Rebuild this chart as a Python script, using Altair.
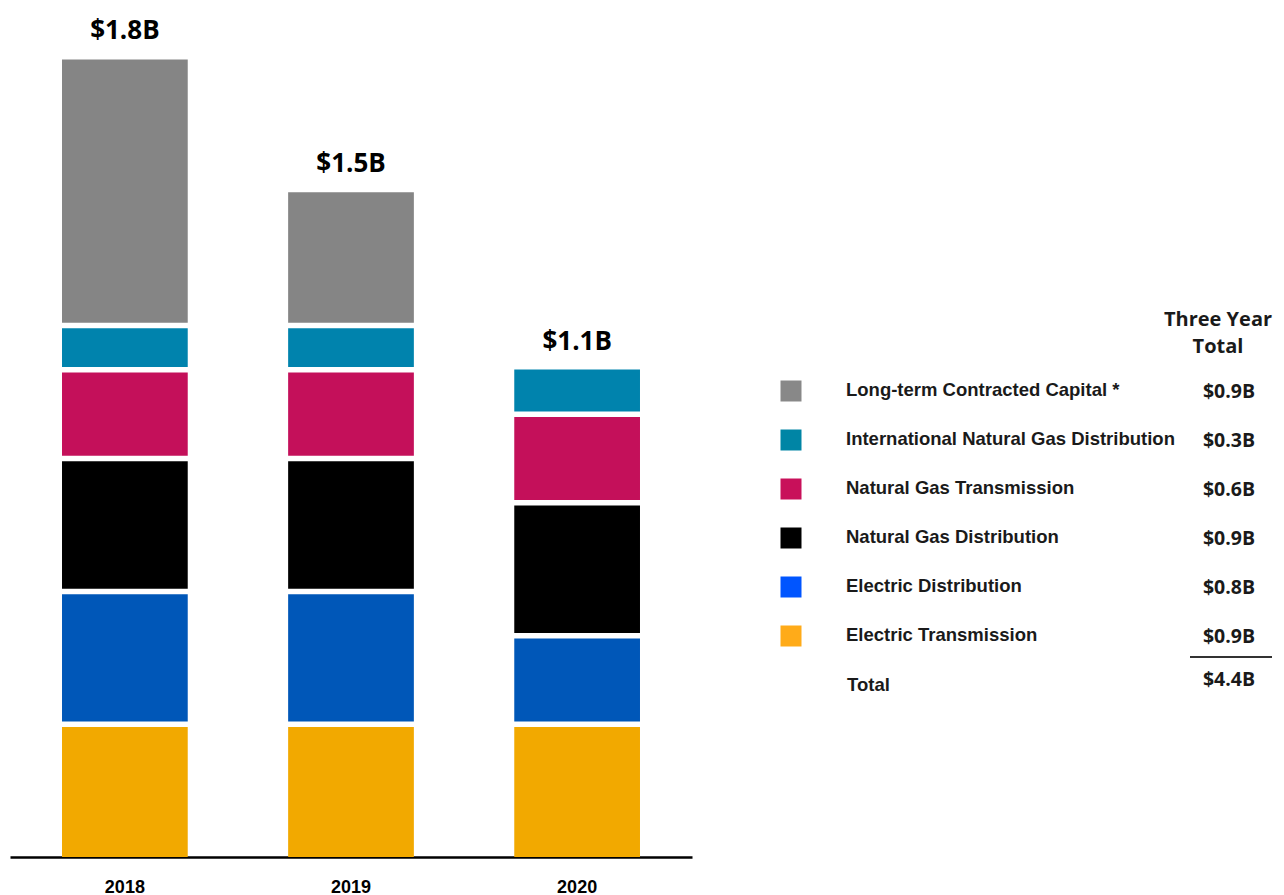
import altair as alt
import pandas as pd

years = ["2018", "2019", "2020"]
categories = [
    "Electric Transmission",
    "Electric Distribution",
    "Natural Gas Distribution",
    "Natural Gas Transmission",
    "International Natural Gas Distribution",
    "Long-term Contracted Capital *",
]
# values in $B, per category, per year (2018, 2019, 2020)
values = {
    "Electric Transmission": [0.3, 0.3, 0.3],
    "Electric Distribution": [0.3, 0.3, 0.2],
    "Natural Gas Distribution": [0.3, 0.3, 0.3],
    "Natural Gas Transmission": [0.2, 0.2, 0.2],
    "International Natural Gas Distribution": [0.1, 0.1, 0.1],
    "Long-term Contracted Capital *": [0.6, 0.3, 0.0],
}
bar_colors = ["#f2a900", "#0057b8", "#000000", "#c4105a", "#0083ad", "#858585"]
legend_colors = ["#ffab19", "#0055ff", "#000000", "#c8105a", "#0085a5", "#888888"]
legend_order = list(reversed(categories)) + ["Total"]

rows = []
for ci, c in enumerate(categories):
    for yi, y in enumerate(years):
        rows.append({"year": y, "category": c, "rank": ci, "value": values[c][yi]})
df = pd.DataFrame(rows)

xscale = alt.Scale(domain=years, paddingInner=0.444, paddingOuter=0.23)
yscale = alt.Scale(domain=[0, 1.916], nice=False, zero=True)
cscale = alt.Scale(domain=categories, range=bar_colors)

base = alt.Chart(df).transform_filter("datum.value > 0").transform_stack(
    stack="value", groupby=["year"], as_=["start", "end"],
    sort=[alt.SortField("rank", order="ascending")],
).transform_joinaggregate(
    total="sum(value)", groupby=["year"]
).transform_calculate(
    is_top="abs(datum.end - datum.total) < 1e-9 ? 1 : 0"
)

xenc = alt.X("year:N", scale=xscale, title=None,
             axis=alt.Axis(labelAngle=0, ticks=False, domainColor="#000000",
                           domainWidth=2.5, labelFont="Liberation Sans",
                           labelFontWeight="bold", labelFontSize=18,
                           labelColor="#000000", labelPadding=21))
yenc = alt.Y("end:Q", scale=yscale, axis=None)
cenc = alt.Color("category:N", scale=cscale, legend=None)

bottom = base.transform_filter("datum.rank == 0").mark_bar(yOffset=3).encode(
    x=xenc, y=yenc, y2="start:Q", color=cenc,
)
middle = base.transform_filter("datum.rank > 0 && datum.is_top == 0").mark_bar(
    yOffset=3, y2Offset=-2.5).encode(
    x=xenc, y=yenc, y2="start:Q", color=cenc,
)
top = base.transform_filter("datum.rank > 0 && datum.is_top == 1").mark_bar(
    y2Offset=-2.5).encode(
    x=xenc, y=yenc, y2="start:Q", color=cenc,
)
totals = alt.Chart(df).transform_aggregate(
    total="sum(value)", groupby=["year"]
).transform_calculate(
    label="'$' + format(datum.total, '.1f') + 'B'"
).mark_text(font="Open Sans", fontWeight="bold", fontSize=26, dy=-28,
            baseline="middle", color="#000000").encode(
    x=alt.X("year:N", scale=xscale),
    y=alt.Y("total:Q", scale=yscale),
    text="label:N",
)

bars = alt.layer(bottom, middle, top, totals).properties(width=682, height=849)

# legend / table panel
lscale_y = alt.Scale(domain=legend_order, range=[383, 677], type="point", padding=0)
lcolor = alt.Scale(domain=categories, range=legend_colors)

leg_base = alt.Chart(df).transform_aggregate(
    total="sum(value)", groupby=["category"]
).transform_calculate(
    label="'$' + format(datum.total, '.1f') + 'B'"
)

squares = leg_base.mark_square(size=441, opacity=1).encode(
    x=alt.value(35),
    y=alt.Y("category:N", scale=lscale_y, axis=None),
    color=alt.Color("category:N", scale=lcolor, legend=None),
)
names = leg_base.mark_text(align="left", baseline="middle", font="Liberation Sans",
                           fontWeight="bold", fontSize=18.5, color="#1a1a1a", dy=-1).encode(
    x=alt.value(90),
    y=alt.Y("category:N", scale=lscale_y, axis=None),
    text="category:N",
)
amounts = leg_base.mark_text(align="center", baseline="middle", font="Open Sans",
                             fontWeight="bold", fontSize=19.5, color="#1a1a1a", dy=1).encode(
    x=alt.value(473),
    y=alt.Y("category:N", scale=lscale_y, axis=None),
    text="label:N",
)
grand = alt.Chart(df).transform_aggregate(
    total="sum(value)"
).transform_calculate(
    label="'$' + format(datum.total, '.1f') + 'B'",
    name="'Total'",
)
grand_name = grand.mark_text(align="left", baseline="middle", font="Liberation Sans",
                             fontWeight="bold", fontSize=18.5, color="#1a1a1a").encode(
    x=alt.value(91),
    y=alt.Y("name:N", scale=lscale_y, axis=None),
    text="name:N",
)
grand_val = grand.mark_text(align="center", baseline="middle", font="Open Sans",
                            fontWeight="bold", fontSize=19.5, color="#1a1a1a", dy=-5).encode(
    x=alt.value(473),
    y=alt.Y("name:N", scale=lscale_y, axis=None),
    text="label:N",
)
underline = alt.Chart(df).mark_rule(color="#333333", strokeWidth=1.5).encode(
    x=alt.value(434), x2=alt.value(516), y=alt.value(649),
)
header = alt.Chart(df).transform_aggregate(n="count()").mark_text(
    align="center", baseline="middle", font="Open Sans", fontWeight="bold",
    fontSize=20, color="#1a1a1a", lineHeight=27,
).encode(
    x=alt.value(462), y=alt.value(312),
    text=alt.value(["Three Year", "Total"]),
)

legend_panel = alt.layer(squares, names, amounts, grand_name, grand_val, underline, header).properties(
    width=516, height=849
)

chart = alt.hconcat(bars, legend_panel, spacing=64).resolve_scale(
    color="independent", y="independent", x="independent"
).properties(
    padding={"left": 2, "top": 0, "right": 0, "bottom": 0}
).configure_view(stroke=None).configure_axis(grid=False)

chart.save("out.html", embed_options={"renderer": "svg", "actions": False})
